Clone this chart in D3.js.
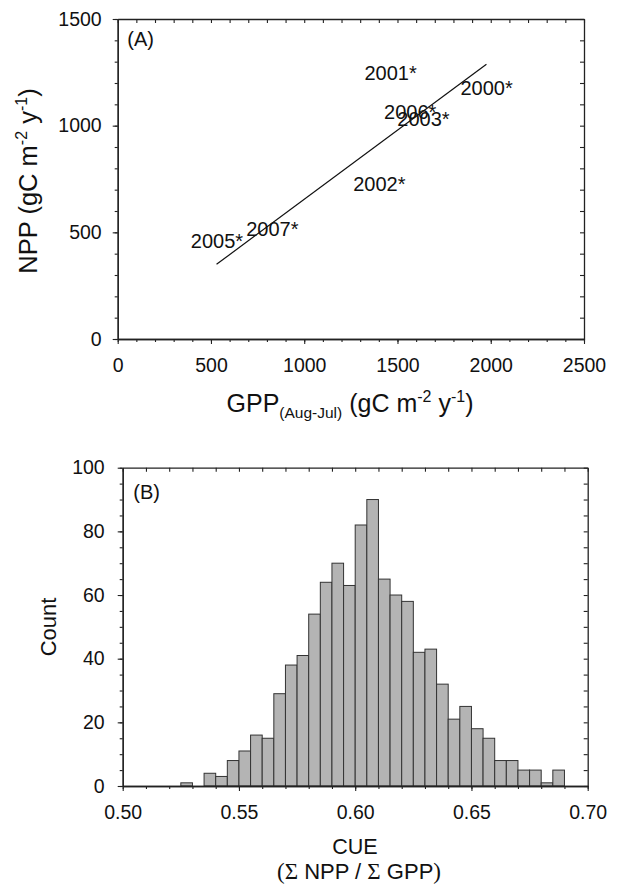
<!DOCTYPE html>
<html><head><meta charset="utf-8">
<script src="https://cdn.jsdelivr.net/npm/d3@7"></script>
<style>body{margin:0;background:#fff}svg{display:block}</style>
</head><body>
<svg id="c" width="617" height="886"></svg>
<script>
// ---- Panel A data ----
const yearLabels = ["2000*","2001*","2002*","2006*","2003*","2005*","2007*"];
const gppValues  = [1978, 1463, 1403, 1568, 1639, 532, 829];
const nppValues  = [1178, 1245, 726, 1066, 1031, 461, 514];
const fitGpp = [530, 1977];
const fitNpp = [350, 1288];
const xTicksA = [0, 500, 1000, 1500, 2000, 2500];
const yTicksA = [0, 500, 1000, 1500];

// ---- Panel B data ----
const binStarts = [0.525,0.530,0.535,0.540,0.545,0.550,0.555,0.560,0.565,0.570,
                   0.575,0.580,0.585,0.590,0.595,0.600,0.605,0.610,0.615,0.620,
                   0.625,0.630,0.635,0.640,0.645,0.650,0.655,0.660,0.665,0.670,
                   0.675,0.680,0.685];
const binCounts = [1,0,4,3,8,11,16,15,29,38,
                   41,54,64,70,63,82,90,65,60,58,
                   42,43,32,21,25,18,15,8,8,5,
                   5,1,5];
const binWidth = 0.005;
const xTicksB = [0.50, 0.55, 0.60, 0.65, 0.70];
const yTicksB = [0, 20, 40, 60, 80, 100];

const SANS = "'Liberation Sans', Arial, Helvetica, sans-serif";
const SERIF = "'Liberation Serif', 'Times New Roman', serif";
const svg = d3.select("#c");
svg.append("rect").attr("width",617).attr("height",886).attr("fill","#fff");

function drawFrame(g, x, y, majX, majY, minX, minY, fmtX, fmtY, padX, padY) {
  const [x0, x1] = x.range(), [y0, y1] = y.range();
  g.append("g").attr("transform",`translate(0,${y0})`)
    .call(d3.axisBottom(x).tickValues(minX).tickSize(3).tickSizeOuter(0).tickFormat(""));
  g.append("g").attr("transform",`translate(${x0},0)`)
    .call(d3.axisLeft(y).tickValues(minY).tickSize(3).tickSizeOuter(0).tickFormat(""));
  g.append("g").attr("transform",`translate(0,${y1})`)
    .call(d3.axisTop(x).tickValues(minX).tickSize(-4).tickSizeOuter(0).tickFormat(""));
  g.append("g").attr("transform",`translate(${x1},0)`)
    .call(d3.axisRight(y).tickValues(minY).tickSize(-4).tickSizeOuter(0).tickFormat(""));
  g.append("g").attr("class","lab").attr("transform",`translate(0,${y0})`)
    .call(d3.axisBottom(x).tickValues(majX).tickSize(5).tickSizeOuter(0).tickPadding(padX).tickFormat(fmtX));
  g.append("g").attr("class","lab").attr("transform",`translate(${x0},0)`)
    .call(d3.axisLeft(y).tickValues(majY).tickSize(5).tickSizeOuter(0).tickPadding(padY).tickFormat(fmtY));
  g.selectAll(".domain").attr("stroke","#222").attr("stroke-width",1.3);
  g.selectAll(".tick line").attr("stroke","#222").attr("stroke-width",1.1);
  g.selectAll(".lab text").attr("font-family",SANS).attr("font-size","19.5px").attr("fill","#111");
}

// ---------- Panel A ----------
const xA = d3.scaleLinear().domain([0,2500]).range([117.7,584]);
const yA = d3.scaleLinear().domain([0,1500]).range([339,19]);
const gA = svg.append("g");

gA.append("path")
  .datum(fitGpp.map((v,i)=>[v, fitNpp[i]]))
  .attr("fill","none").attr("stroke","#111").attr("stroke-width",1.2)
  .attr("d", d3.line().x(d=>xA(d[0])).y(d=>yA(d[1])));

gA.selectAll("text.pt").data(yearLabels).join("text").attr("class","pt")
  .attr("x",(d,i)=>xA(gppValues[i])).attr("y",(d,i)=>yA(nppValues[i]))
  .attr("dy","0.35em").attr("text-anchor","middle")
  .attr("font-family",SANS).attr("font-size","20px").attr("fill","#111")
  .text(d=>d);

drawFrame(gA, xA, yA, xTicksA, yTicksA, xA.ticks(25), yA.ticks(15), d3.format("d"), d3.format("d"), 14, 11);

gA.append("text").attr("x",127.3).attr("y",39.3).attr("dy","0.35em")
  .attr("font-family",SANS).attr("font-size","20px").attr("fill","#111").text("(A)");

const ytA = gA.append("text").attr("transform","translate(28,181) rotate(-90)")
  .attr("text-anchor","middle").attr("dy","0.35em")
  .attr("font-family",SANS).attr("font-size","25.5px").attr("fill","#111");
ytA.append("tspan").text("NPP (gC m");
ytA.append("tspan").attr("font-size","16px").attr("dy","-10").text("-2");
ytA.append("tspan").attr("dy","10").text(" y");
ytA.append("tspan").attr("font-size","16px").attr("dy","-10").text("-1");
ytA.append("tspan").attr("dy","10").text(")");

const xtA = gA.append("text").attr("x",350).attr("y",412)
  .attr("text-anchor","middle")
  .attr("font-family",SANS).attr("font-size","25px").attr("fill","#111");
xtA.append("tspan").text("GPP");
xtA.append("tspan").attr("font-size","15.5px").attr("dy","6").text("(Aug-Jul)");
xtA.append("tspan").attr("dy","-6").text(" (gC m");
xtA.append("tspan").attr("font-size","16px").attr("dy","-10").text("-2");
xtA.append("tspan").attr("dy","10").text(" y");
xtA.append("tspan").attr("font-size","16px").attr("dy","-10").text("-1");
xtA.append("tspan").attr("dy","10").text(")");

// ---------- Panel B ----------
const xB = d3.scaleLinear().domain([0.5,0.7]).range([122.7,587.7]);
const yB = d3.scaleLinear().domain([0,100]).range([786,467.7]);
const gB = svg.append("g");

gB.selectAll("rect.bar").data(binStarts).join("rect").attr("class","bar")
  .attr("x",d=>xB(d))
  .attr("width",d=>xB(d+binWidth)-xB(d))
  .attr("y",(d,i)=>yB(binCounts[i]))
  .attr("height",(d,i)=>yB(0)-yB(binCounts[i]))
  .attr("fill","#b4b4b4").attr("stroke","#333").attr("stroke-width",1);

drawFrame(gB, xB, yB, xTicksB, yTicksB, xB.ticks(20), yB.ticks(25), d3.format(".2f"), d3.format("d"), 14, 13);

gB.append("text").attr("x",133.3).attr("y",491.7).attr("dy","0.35em")
  .attr("font-family",SANS).attr("font-size","20px").attr("fill","#111").text("(B)");

gB.append("text").attr("transform","translate(48,627) rotate(-90)")
  .attr("text-anchor","middle").attr("dy","0.35em")
  .attr("font-family",SANS).attr("font-size","22px").attr("fill","#111").text("Count");

gB.append("text").attr("x",355).attr("y",846).attr("dy","0.35em")
  .attr("text-anchor","middle")
  .attr("font-family",SANS).attr("font-size","21.5px").attr("fill","#111").text("CUE");

const l2 = gB.append("text").attr("x",359).attr("y",871.5).attr("dy","0.35em")
  .attr("text-anchor","middle")
  .attr("font-family",SANS).attr("font-size","22px").attr("fill","#111");
l2.append("tspan").attr("font-family",SERIF).attr("font-size","23px").text("(\u03A3");
l2.append("tspan").text(" NPP / ");
l2.append("tspan").attr("font-family",SERIF).attr("font-size","23px").text("\u03A3");
l2.append("tspan").text(" GPP");
l2.append("tspan").attr("font-family",SERIF).attr("font-size","23px").text(")");
</script>
</body></html>
